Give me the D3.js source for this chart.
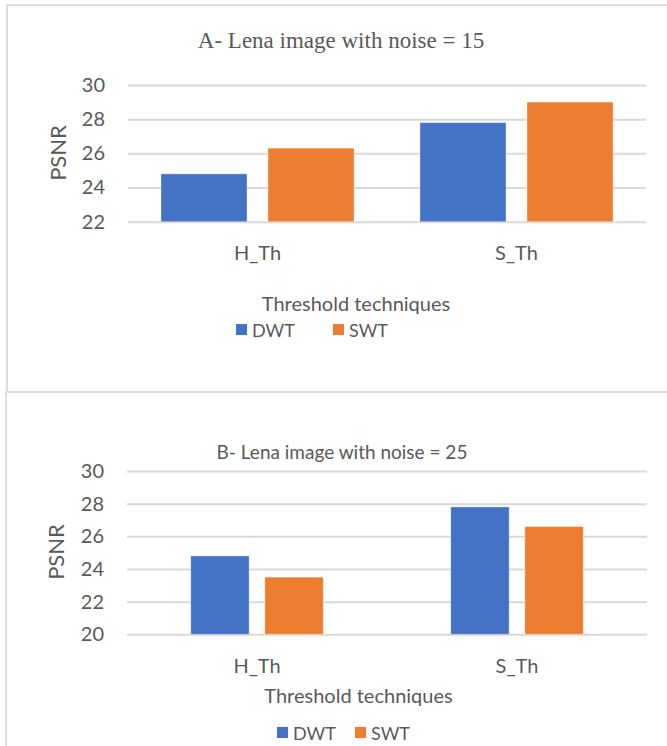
<!DOCTYPE html>
<html>
<head>
<meta charset="utf-8">
<script src="https://cdn.jsdelivr.net/npm/d3@7"></script>
<style>
  html, body { margin: 0; padding: 0; background: #fff; }
  svg { display: block; }
  text { font-family: Lato, "Open Sans", sans-serif; fill: #595959; }
</style>
</head>
<body>
<svg id="chart" width="667" height="746"></svg>
<script>
// Threshold techniques compared on the two wavelet transforms
const categories = ["H_Th", "S_Th"];
const seriesNames = ["DWT", "SWT"];
const seriesColors = ["#4472C4", "#ED7D31"];

// PSNR, Lena with noise = 15
const dwtNoise15 = [24.8, 27.8];
const swtNoise15 = [26.3, 29.0];
const ticksNoise15 = [22, 24, 26, 28, 30];

// PSNR, Lena with noise = 25
const dwtNoise25 = [24.8, 27.8];
const swtNoise25 = [23.5, 26.6];
const ticksNoise25 = [20, 22, 24, 26, 28, 30];

const svg = d3.select("#chart");

// panel frames
const frame = svg.append("g").attr("stroke", "#dedede").attr("stroke-width", 2).attr("fill", "none");
frame.append("path").attr("d", "M7,392 V5 H667");
frame.append("path").attr("d", "M6,746 V392 H667");

function drawPanel(cfg) {
  const g = svg.append("g");
  const x = d3.scaleBand().domain(categories).range([cfg.left, cfg.right]).padding(0);
  const xs = d3.scaleBand().domain(seriesNames).range([0, x.bandwidth()])
    .paddingInner(cfg.padInner).paddingOuter(cfg.padOuter);
  const y = d3.scaleLinear().domain(cfg.domain).range([cfg.bottom, cfg.top]);

  // gridlines + value labels
  const yAxis = g.append("g")
    .attr("transform", `translate(${cfg.left},0)`)
    .call(d3.axisLeft(y).tickValues(cfg.ticks).tickSize(-(cfg.right - cfg.left)).tickPadding(23));
  yAxis.select(".domain").remove();
  yAxis.selectAll("line").attr("stroke", "#d9d9d9").attr("stroke-width", 2);
  yAxis.selectAll("text").attr("font-size", 20).attr("fill", "#595959")
    .style("font-family", "Lato, sans-serif");

  // bars
  const rows = categories.map((c, i) => ({ cat: c, values: cfg.series.map((s, k) => ({ name: seriesNames[k], v: s[i], k })) }));
  g.selectAll("g.cat").data(rows).join("g")
    .attr("class", "cat")
    .attr("transform", d => `translate(${x(d.cat)},0)`)
    .selectAll("rect").data(d => d.values).join("rect")
    .attr("x", d => xs(d.name))
    .attr("width", xs.bandwidth())
    .attr("y", d => y(d.v))
    .attr("height", d => y(cfg.domain[0]) - y(d.v))
    .attr("fill", d => seriesColors[d.k])
    .attr("stroke", "rgba(255,255,255,0.35)")
    .attr("stroke-width", 1);

  // category labels
  const xAxis = g.append("g")
    .attr("transform", `translate(0,${cfg.bottom})`)
    .call(d3.axisBottom(x).tickSize(0).tickPadding(cfg.catPad));
  xAxis.select(".domain").remove();
  xAxis.selectAll("text").attr("font-size", 20).attr("fill", "#595959")
    .style("font-family", "Lato, sans-serif");

  // title
  g.append("text")
    .attr("x", cfg.titleX).attr("y", cfg.titleY)
    .attr("text-anchor", "middle").attr("dominant-baseline", "central")
    .attr("font-size", cfg.titleSize)
    .style("font-family", cfg.titleFont)
    .text(cfg.title);

  // y axis title
  g.append("text")
    .attr("transform", `translate(${cfg.yTitleX},${cfg.yTitleY}) rotate(-90)`)
    .attr("text-anchor", "middle").attr("dominant-baseline", "central")
    .attr("font-size", 22)
    .text("PSNR");

  // x axis title
  g.append("text")
    .attr("x", cfg.xTitleX).attr("y", cfg.xTitleY)
    .attr("text-anchor", "middle").attr("dominant-baseline", "central")
    .attr("font-size", 20)
    .text("Threshold techniques");

  // legend
  const leg = g.selectAll("g.leg").data(seriesNames).join("g")
    .attr("class", "leg")
    .attr("transform", (d, i) => `translate(${cfg.legendX[i]},${cfg.legendY})`);
  leg.append("rect").attr("x", 0).attr("y", -6).attr("width", 11).attr("height", 11)
    .attr("fill", (d, i) => seriesColors[i]);
  leg.append("text").attr("x", 16).attr("y", 0).attr("dominant-baseline", "central")
    .attr("font-size", 18).text(d => d);
}

drawPanel({
  left: 128, right: 646, top: 85, bottom: 221.7,
  domain: [22, 30], ticks: ticksNoise15,
  series: [dwtNoise15, swtNoise15],
  padInner: 0.196, padOuter: 0.308,
  catPad: 24,
  title: "A- Lena image with noise = 15",
  titleFont: "'Liberation Serif', 'DejaVu Serif', serif", titleSize: 23,
  titleX: 341, titleY: 40,
  yTitleX: 57, yTitleY: 153,
  xTitleX: 356, xTitleY: 303,
  legendX: [236, 333], legendY: 330
});

drawPanel({
  left: 127, right: 647, top: 471, bottom: 634.3,
  domain: [20, 30], ticks: ticksNoise25,
  series: [dwtNoise25, swtNoise25],
  padInner: 0.212, padOuter: 0.86,
  catPad: 25,
  title: "B- Lena image with noise = 25",
  titleFont: "Lato, sans-serif", titleSize: 19,
  titleX: 342, titleY: 451,
  yTitleX: 55, yTitleY: 552,
  xTitleX: 358.5, xTitleY: 695,
  legendX: [277, 355], legendY: 733
});
</script>
</body>
</html>
